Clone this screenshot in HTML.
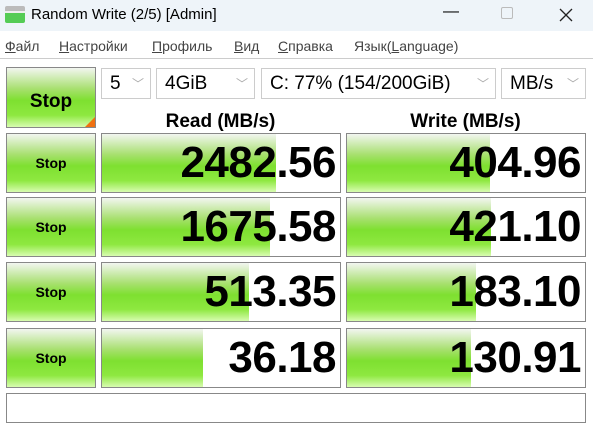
<!DOCTYPE html>
<html><head><meta charset="utf-8"><style>
body{margin:0;width:593px;height:429px;background:#fff;font-family:"Liberation Sans","DejaVu Sans",sans-serif;position:relative;overflow:hidden}
.abs{position:absolute;box-sizing:border-box}
.title{left:0;top:0;width:593px;height:31px;background:#eef4f9}
.menu{left:0;top:31px;width:593px;height:28px;background:#fff;border-bottom:1px solid #ccc}
.mi{top:38px;font-size:14px;color:#444}
.btn{border:1px solid #888;background:linear-gradient(#f2f6f0 0%,#a8e070 35%,#7ee030 55%,#8ee840 80%,#d8fcb0 100%);display:flex;align-items:center;justify-content:center;font-weight:bold;color:#000}
.cell{border:1px solid #888;background:#fff;overflow:hidden}
.fill{position:absolute;left:0;top:0;bottom:0;background:linear-gradient(#f2f6f0 0%,#a8e070 35%,#7ee030 55%,#8ee840 80%,#d8fcb0 100%)}
.val{position:absolute;right:4px;top:0;bottom:0;display:flex;align-items:center;font-weight:bold;font-size:44px;letter-spacing:-0.5px}
.combo{top:68px;height:31px;border:1px solid #ccc;background:#fff;font-size:19px;padding-left:8px;display:flex;align-items:center}
.combo .ar{position:absolute;right:6px;top:6px;color:#aaa;font-size:12px}
.hdr{top:111px;font-weight:bold;font-size:19px;text-align:center}
</style></head><body>
<div class="abs title"></div>
<div class="abs" style="left:5px;top:6px;width:20px;height:17px;background:linear-gradient(#bbb 0 30%,#eee 30% 40%,#5c5 40% 100%);border-radius:2px"></div>
<div class="abs" style="left:31px;top:6px;font-size:15px;color:#000">Random Write (2/5) [Admin]</div>
<div class="abs" style="left:443px;top:3px;font-size:16px">—</div>
<div class="abs" style="left:501px;top:7px;width:12px;height:12px;border:1px solid #bbb;border-radius:2px"></div>
<svg class="abs" style="left:559px;top:8px" width="14" height="14"><path d="M1 1L13 13M13 1L1 13" stroke="#222" stroke-width="1.3"/></svg>
<div class="abs menu"></div>
<div class="abs mi" style="left:5px"><u>Ф</u>айл</div>
<div class="abs mi" style="left:59px"><u>Н</u>астройки</div>
<div class="abs mi" style="left:152px"><u>П</u>рофиль</div>
<div class="abs mi" style="left:234px"><u>В</u>ид</div>
<div class="abs mi" style="left:278px"><u>С</u>правка</div>
<div class="abs mi" style="left:354px">Язык(<u>L</u>anguage)</div>
<div class="abs btn" style="left:6px;top:67px;width:90px;height:61px;font-size:19px;padding-top:8px">Stop<div class="abs" style="right:0;bottom:0;width:0;height:0;border-left:10px solid transparent;border-bottom:10px solid #f07010"></div></div>
<div class="abs combo" style="left:101px;width:50px">5<span class="ar">﹀</span></div>
<div class="abs combo" style="left:156px;width:99px">4GiB<span class="ar">﹀</span></div>
<div class="abs combo" style="left:261px;width:235px">C: 77% (154/200GiB)<span class="ar">﹀</span></div>
<div class="abs combo" style="left:501px;width:85px">MB/s<span class="ar">﹀</span></div>
<div class="abs hdr" style="left:101px;width:239px">Read (MB/s)</div>
<div class="abs hdr" style="left:346px;width:239px">Write (MB/s)</div>
<div id="rows"></div>
<div class="abs cell" style="left:6px;top:393px;width:580px;height:30px"></div>
<script>
const readVals=[2482.56,1675.58,513.35,36.18];
const writeVals=[404.96,421.10,183.10,130.91];
const rowTops=[133,197,262,328];
function frac(v){return Math.max(0,Math.min(1,(Math.log10(v)+1)/6));}
const root=document.getElementById('rows');
function mkCell(left,top,v,name){
  const c=document.createElement('div');
  c.className='abs cell';
  c.style.cssText=`left:${left}px;top:${top}px;width:240px;height:60px`;
  
  
  const f=document.createElement('div');
  f.className='fill';
  f.style.width=(frac(v)*238)+'px';
  
  
  c.appendChild(f);
  const t=document.createElement('div');
  t.className='val';
  t.textContent=v.toFixed(2);
  
  
  c.appendChild(t);
  root.appendChild(c);
}
for(let i=0;i<readVals.length;i++){
  const top=rowTops[i];
  const b=document.createElement('div');
  b.className='abs btn';
  b.style.cssText=`left:6px;top:${top}px;width:90px;height:60px;font-size:14px`;
  b.textContent='Stop';
  
  
  root.appendChild(b);
  mkCell(101,top,readVals[i],'read-score-cell');
  mkCell(346,top,writeVals[i],'write-score-cell');
}
</script>
</body></html>
